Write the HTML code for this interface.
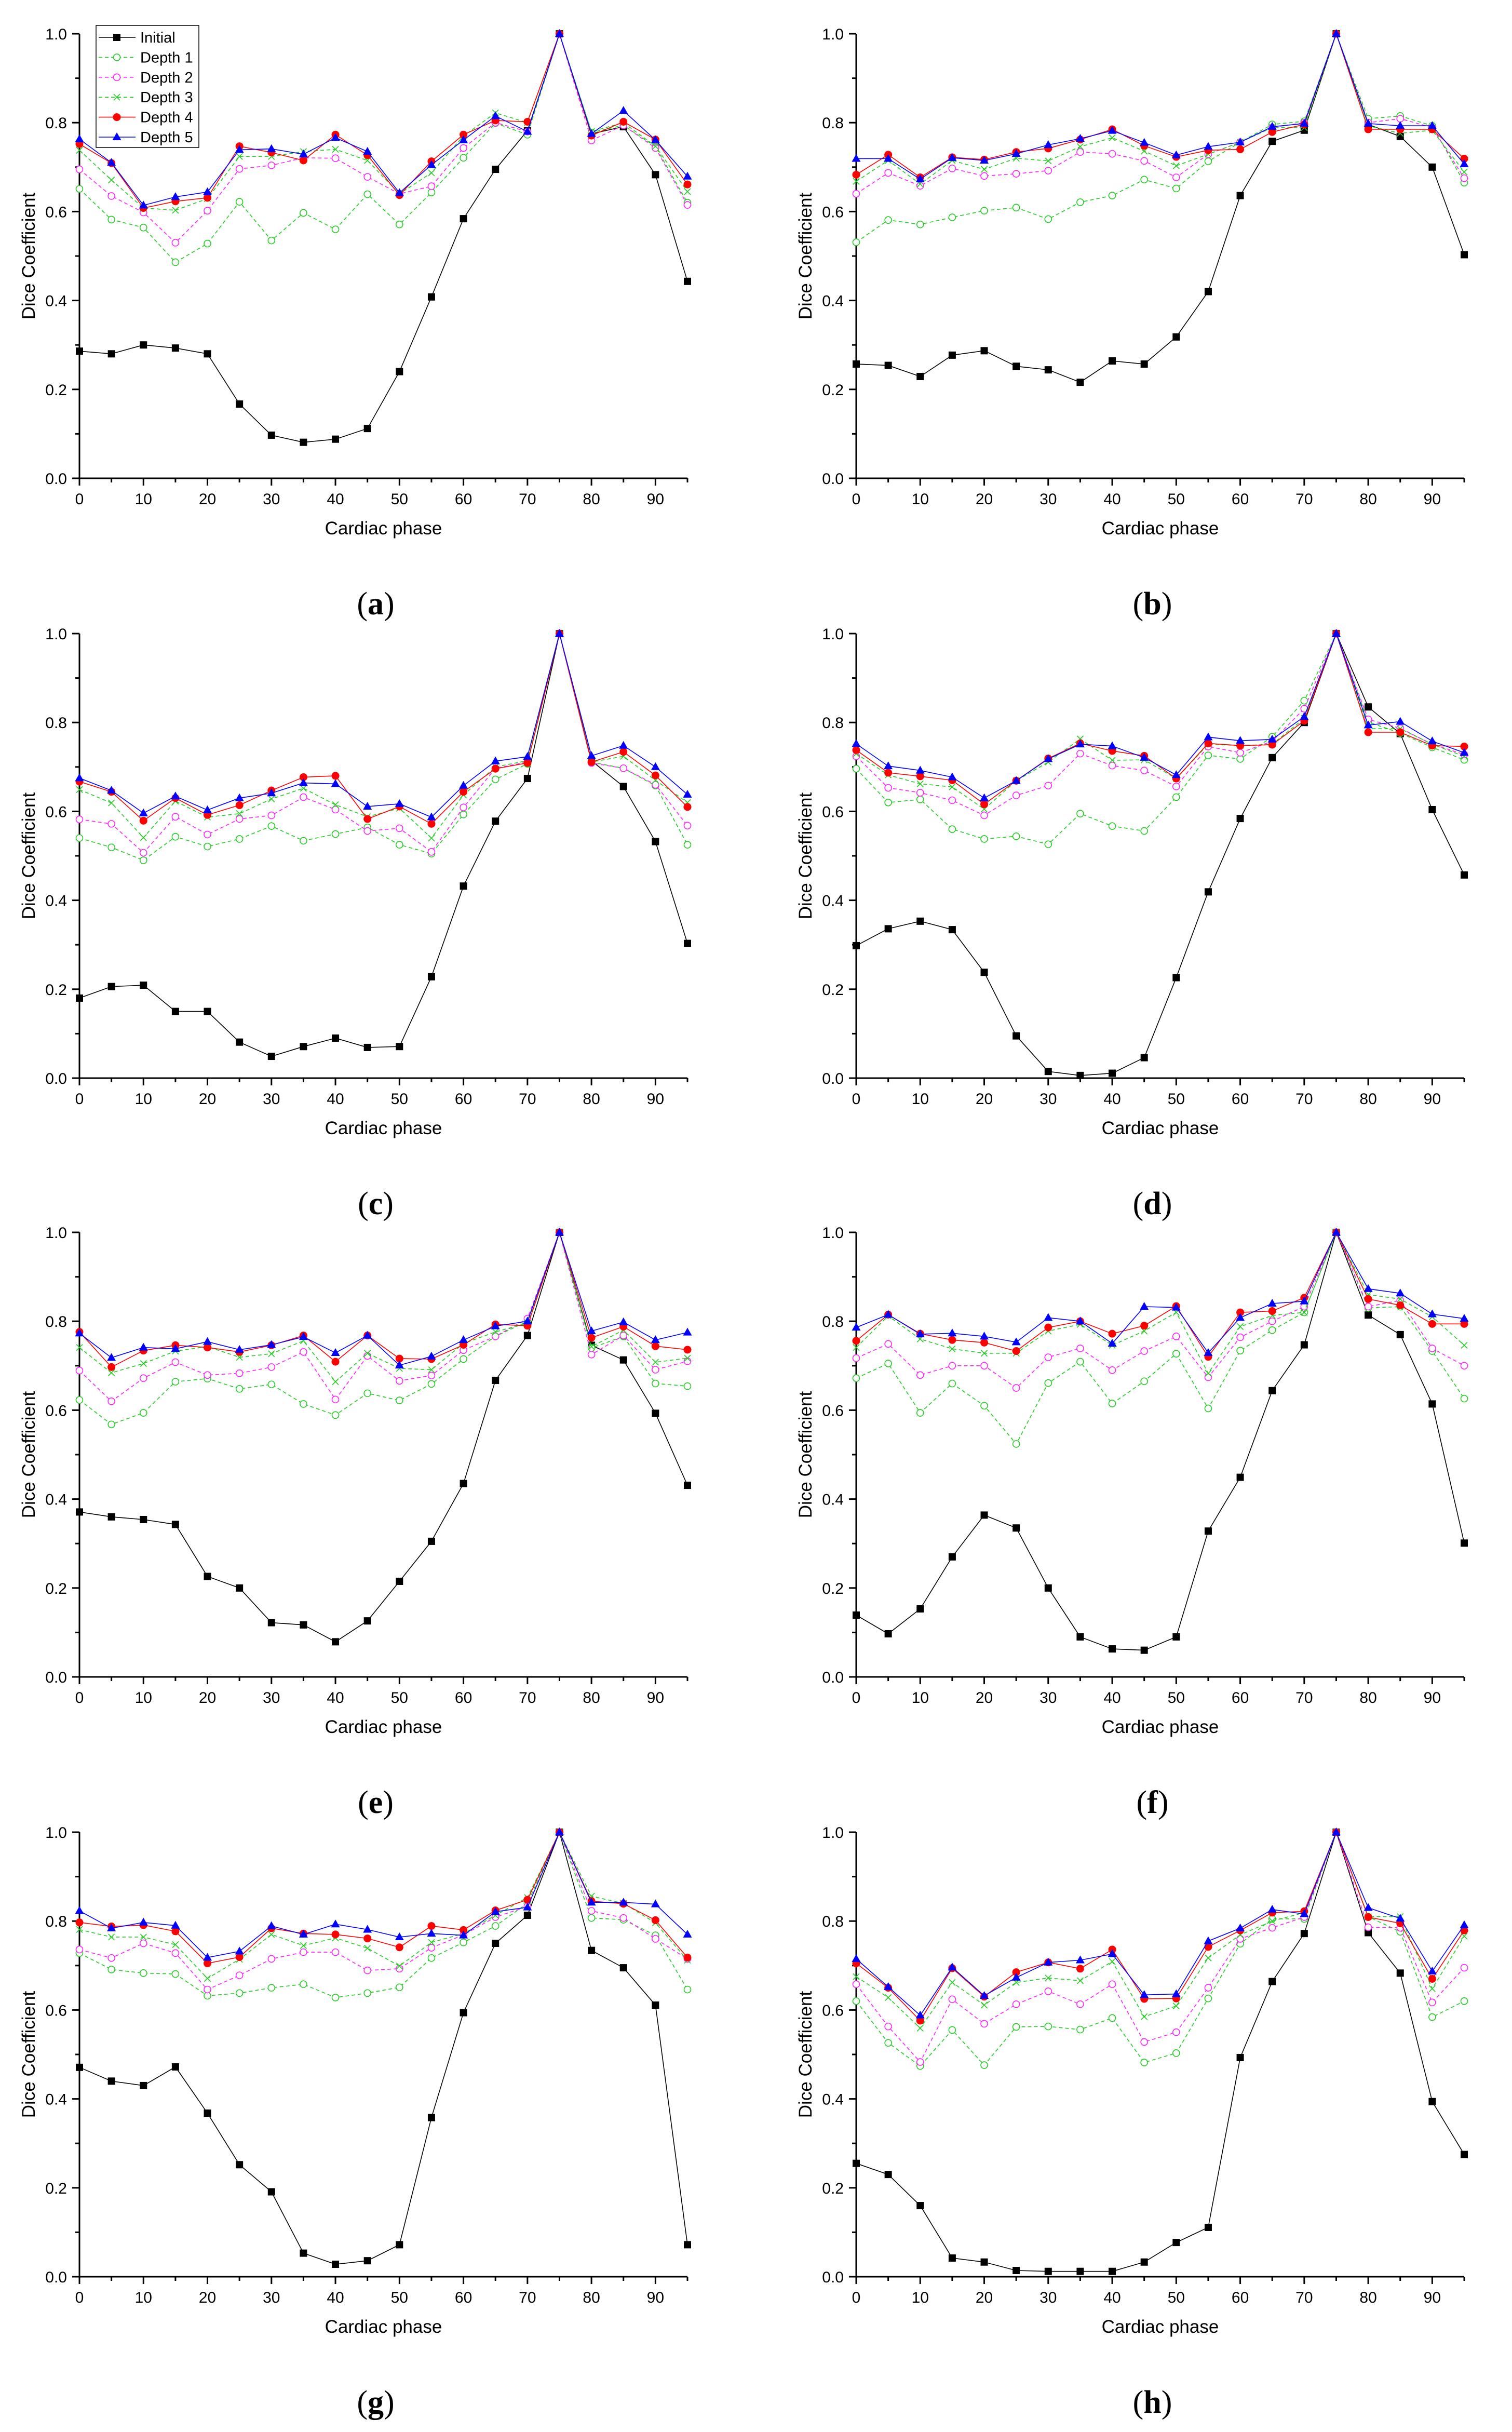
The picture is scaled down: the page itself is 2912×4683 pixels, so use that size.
<!DOCTYPE html>
<html><head><meta charset="utf-8"><title>Dice coefficient by cardiac phase</title>
<style>
html,body{margin:0;padding:0;background:#fff;}
svg{display:block;}
text{font-family:"Liberation Sans",Arial,sans-serif;fill:#000;}
.sub{font-family:"Liberation Serif","DejaVu Serif",serif;}
</style></head>
<body>
<svg id="fig" xmlns="http://www.w3.org/2000/svg" width="2912" height="4683" viewBox="0 0 2912 4683"></svg>
<script>
const phases = [0,5,10,15,20,25,30,35,40,45,50,55,60,65,70,75,80,85,90,95];
const xTicks = [0,10,20,30,40,50,60,70,80,90];
const yTicks = [0.0,0.2,0.4,0.6,0.8,1.0];
const seriesNames = ["Initial","Depth 1","Depth 2","Depth 3","Depth 4","Depth 5"];
const panelLabels = ["a","b","c","d","e","f","g","h"];

const a_init = [.286,.28,.30,.293,.28,.167,.097,.081,.088,.112,.24,.408,.584,.695,.782,1,.775,.791,.683,.443];
const a_d1 = [.651,.582,.564,.486,.528,.622,.535,.597,.56,.639,.571,.643,.721,.799,.773,1,.778,.794,.746,.62];
const a_d2 = [.695,.635,.598,.53,.602,.696,.704,.721,.72,.678,.64,.657,.743,.80,.78,1,.76,.794,.743,.615];
const a_d3 = [.738,.671,.608,.603,.629,.724,.724,.735,.74,.715,.64,.687,.77,.822,.80,1,.78,.80,.747,.645];
const a_d4 = [.752,.709,.608,.623,.631,.747,.733,.715,.773,.727,.637,.713,.773,.805,.802,1,.771,.802,.762,.661];
const a_d5 = [.763,.71,.614,.633,.644,.739,.741,.729,.766,.735,.642,.705,.761,.815,.78,1,.775,.827,.761,.679];

const b_init = [.257,.254,.229,.277,.287,.252,.244,.216,.264,.257,.318,.42,.636,.758,.783,1,.796,.769,.70,.503];
const b_d1 = [.531,.581,.571,.587,.602,.609,.583,.621,.636,.672,.652,.713,.756,.796,.803,1,.809,.815,.793,.665];
const b_d2 = [.64,.687,.658,.697,.68,.685,.692,.734,.73,.714,.677,.729,.756,.789,.80,1,.80,.809,.789,.675];
const b_d3 = [.668,.715,.662,.715,.695,.72,.714,.746,.766,.736,.703,.729,.756,.789,.789,1,.793,.776,.783,.689];
const b_d4 = [.683,.728,.677,.722,.717,.734,.742,.762,.785,.748,.723,.738,.74,.779,.796,1,.785,.785,.785,.719];
const b_d5 = [.719,.719,.673,.721,.715,.73,.75,.764,.782,.755,.727,.746,.756,.791,.798,1,.798,.793,.793,.707];

const c_init = [.18,.206,.209,.15,.15,.081,.049,.071,.09,.069,.071,.228,.432,.578,.674,1,.714,.656,.532,.303];
const c_d1 = [.54,.519,.49,.543,.521,.538,.567,.534,.549,.564,.525,.505,.593,.672,.707,1,.711,.697,.658,.525];
const c_d2 = [.582,.572,.507,.588,.548,.583,.591,.632,.604,.556,.562,.509,.609,.697,.711,1,.709,.697,.66,.568];
const c_d3 = [.649,.619,.541,.623,.587,.595,.628,.652,.615,.588,.607,.54,.637,.70,.714,1,.711,.724,.67,.62];
const c_d4 = [.667,.644,.579,.63,.592,.614,.647,.677,.68,.583,.611,.572,.644,.696,.709,1,.711,.734,.681,.61];
const c_d5 = [.675,.647,.596,.634,.603,.63,.641,.664,.662,.611,.617,.587,.658,.713,.723,1,.725,.748,.70,.638];

const d_init = [.298,.336,.353,.334,.238,.095,.015,.006,.011,.046,.226,.419,.584,.721,.80,1,.835,.775,.604,.457];
const d_d1 = [.696,.62,.627,.56,.538,.544,.526,.595,.567,.556,.632,.726,.718,.768,.849,1,.801,.776,.744,.716];
const d_d2 = [.724,.653,.642,.625,.591,.636,.658,.73,.703,.692,.656,.746,.732,.758,.831,1,.807,.787,.751,.728];
const d_d3 = [.73,.682,.662,.655,.605,.669,.711,.763,.715,.716,.674,.751,.748,.751,.809,1,.786,.786,.751,.724];
const d_d4 = [.738,.687,.679,.67,.616,.669,.719,.753,.736,.725,.674,.753,.748,.75,.804,1,.778,.778,.748,.746];
const d_d5 = [.752,.702,.692,.677,.63,.669,.718,.751,.747,.721,.682,.767,.759,.762,.813,1,.794,.802,.758,.732];

const e_init = [.371,.36,.354,.343,.226,.20,.122,.117,.079,.126,.215,.305,.435,.667,.768,1,.746,.713,.593,.431];
const e_d1 = [.623,.568,.594,.664,.671,.648,.658,.614,.589,.638,.622,.659,.715,.766,.80,1,.74,.766,.66,.654];
const e_d2 = [.689,.62,.672,.708,.679,.683,.697,.731,.624,.722,.666,.678,.735,.766,.806,1,.725,.768,.691,.71];
const e_d3 = [.741,.684,.705,.733,.743,.719,.727,.756,.664,.728,.694,.691,.75,.776,.796,1,.743,.78,.708,.717];
const e_d4 = [.776,.697,.734,.746,.741,.731,.746,.768,.709,.768,.716,.715,.747,.793,.79,1,.763,.788,.744,.736];
const e_d5 = [.773,.718,.741,.738,.754,.736,.747,.765,.729,.768,.701,.721,.758,.789,.80,1,.778,.798,.758,.775];

const f_init = [.139,.097,.153,.27,.364,.335,.20,.09,.063,.06,.09,.328,.449,.644,.747,1,.814,.77,.614,.301];
const f_d1 = [.672,.705,.594,.66,.61,.524,.661,.709,.615,.665,.727,.604,.734,.78,.82,1,.83,.833,.733,.626];
const f_d2 = [.717,.749,.679,.70,.70,.65,.719,.739,.69,.733,.766,.674,.764,.80,.833,1,.833,.847,.739,.70];
const f_d3 = [.741,.812,.76,.738,.728,.728,.778,.793,.746,.778,.82,.683,.788,.813,.82,1,.86,.85,.81,.746];
const f_d4 = [.756,.815,.772,.758,.752,.733,.786,.80,.772,.79,.834,.72,.82,.823,.853,1,.85,.836,.794,.794];
const f_d5 = [.786,.815,.771,.773,.766,.753,.808,.80,.75,.833,.831,.729,.808,.84,.845,1,.873,.863,.816,.806];

const g_init = [.471,.44,.43,.472,.368,.252,.191,.053,.028,.036,.072,.358,.594,.75,.813,1,.734,.695,.611,.072];
const g_d1 = [.728,.691,.683,.681,.632,.638,.65,.658,.628,.638,.651,.717,.752,.789,.84,1,.807,.803,.768,.646];
const g_d2 = [.736,.717,.75,.728,.646,.678,.715,.73,.73,.689,.693,.74,.769,.809,.833,1,.823,.807,.76,.715];
const g_d3 = [.781,.764,.764,.747,.671,.714,.77,.745,.762,.739,.699,.752,.772,.813,.853,1,.856,.84,.796,.712];
const g_d4 = [.797,.788,.791,.777,.705,.719,.784,.772,.77,.761,.741,.789,.78,.824,.848,1,.845,.839,.802,.718];
const g_d5 = [.823,.784,.797,.79,.718,.732,.789,.77,.793,.781,.764,.772,.768,.821,.831,1,.842,.842,.838,.77];

const h_init = [.255,.23,.16,.042,.033,.014,.012,.012,.012,.033,.077,.111,.493,.664,.772,1,.774,.683,.394,.275];
const h_d1 = [.62,.526,.474,.555,.476,.562,.563,.556,.582,.482,.503,.626,.749,.805,.805,1,.81,.776,.584,.62];
const h_d2 = [.658,.563,.483,.624,.569,.613,.642,.613,.658,.528,.55,.65,.76,.785,.809,1,.786,.785,.617,.695];
const h_d3 = [.675,.628,.559,.662,.611,.662,.672,.666,.709,.585,.609,.717,.769,.80,.819,1,.81,.81,.648,.766];
const h_d4 = [.705,.65,.576,.694,.63,.685,.707,.693,.736,.625,.626,.742,.779,.819,.822,1,.809,.795,.67,.779];
const h_d5 = [.715,.652,.588,.696,.632,.673,.707,.712,.726,.634,.636,.755,.784,.826,.816,1,.83,.806,.687,.791];

const panelSeries = [
  [a_init,a_d1,a_d2,a_d3,a_d4,a_d5],
  [b_init,b_d1,b_d2,b_d3,b_d4,b_d5],
  [c_init,c_d1,c_d2,c_d3,c_d4,c_d5],
  [d_init,d_d1,d_d2,d_d3,d_d4,d_d5],
  [e_init,e_d1,e_d2,e_d3,e_d4,e_d5],
  [f_init,f_d1,f_d2,f_d3,f_d4,f_d5],
  [g_init,g_d1,g_d2,g_d3,g_d4,g_d5],
  [h_init,h_d1,h_d2,h_d3,h_d4,h_d5]
];

const NS = "http://www.w3.org/2000/svg";
const svg = document.getElementById("fig");
const styles = [
  {color:"#000000", dash:null, marker:"square"},
  {color:"#22cc22", dash:"7 5", marker:"circle"},
  {color:"#ff22ff", dash:"7 5", marker:"circle"},
  {color:"#22cc22", dash:"7 5", marker:"cross"},
  {color:"#ff0000", dash:null, marker:"dot"},
  {color:"#0000ff", dash:null, marker:"triangle"}
];
function mk(tag, attrs, parent){
  const e = document.createElementNS(NS, tag);
  for (const k in attrs) e.setAttribute(k, attrs[k]);
  (parent||svg).appendChild(e);
  return e;
}
function drawMarker(g, type, color, x, y){
  let m;
  if (type==="square") m = mk("rect",{x:x-7,y:y-7,width:14,height:14,fill:color},g);
  else if (type==="circle") m = mk("circle",{cx:x,cy:y,r:6.5,fill:"#fff",stroke:color,"stroke-width":1.6},g);
  else if (type==="dot") m = mk("circle",{cx:x,cy:y,r:7.5,fill:color},g);
  else if (type==="triangle") m = mk("polygon",{points:`${x},${y-9} ${x-8.5},${y+6} ${x+8.5},${y+6}`,fill:color},g);
  else m = mk("path",{d:`M${x-6},${y-6}L${x+6},${y+6}M${x-6},${y+6}L${x+6},${y-6}`,stroke:color,"stroke-width":1.6,fill:"none"},g);
  return m;
}
const colX = [153, 1649];
const rowY = [65, 1220, 2373, 3528];
const PH = 856, PW = 1171;

panelSeries.forEach((series, p) => {
  const x0 = colX[p%2], yTop = rowY[Math.floor(p/2)], y0 = yTop + PH;
  const xs = v => x0 + v/95*PW;
  const ys = v => y0 - v*PH;
  const g = mk("g",{});
  
  
  // axes
  const ax = mk("path",{d:`M${x0},${yTop}L${x0},${y0}L${x0+PW},${y0}`,stroke:"#000","stroke-width":3,fill:"none"},g);
  
  
  // x ticks
  phases.forEach(v => {
    const major = v%10===0;
    mk("line",{x1:xs(v),y1:y0,x2:xs(v),y2:y0+(major?14:8),stroke:"#000","stroke-width":3},g);
  });
  xTicks.forEach(v => {
    const t = mk("text",{x:xs(v),y:y0+50,"text-anchor":"middle","font-size":30},g);
    t.textContent = v;
    
    
  });
  for (let i=0;i<=10;i++){
    const v=i/10, major=i%2===0;
    mk("line",{x1:x0-(major?14:8),y1:ys(v),x2:x0,y2:ys(v),stroke:"#000","stroke-width":3},g);
  }
  yTicks.forEach(v => {
    const t = mk("text",{x:x0-24,y:ys(v)+11,"text-anchor":"end","font-size":30},g);
    t.textContent = v.toFixed(1);
    
    
  });
  const xt = mk("text",{x:x0+PW/2,y:y0+108,"text-anchor":"middle","font-size":35},g);
  xt.textContent = "Cardiac phase";
  
  
  const yt = mk("text",{x:0,y:0,"text-anchor":"middle","font-size":35,transform:`translate(${x0-86},${yTop+PH/2}) rotate(-90)`},g);
  yt.textContent = "Dice Coefficient";
  
  
  const sl = mk("text",{x:x0+PW/2-15,y:y0+262,"text-anchor":"middle","font-size":62,"class":"sub"},g);
  sl.innerHTML = `(<tspan font-weight="bold">${panelLabels[p]}</tspan>)`;
  
  
  // series
  series.forEach((vals, s) => {
    const st = styles[s];
    const sg = mk("g",{},g);
    
    
    const pts = vals.map((v,i)=>`${xs(phases[i]).toFixed(1)},${ys(v).toFixed(1)}`).join(" ");
    const attrs = {points:pts,fill:"none",stroke:st.color,"stroke-width":1.6};
    if (st.dash) attrs["stroke-dasharray"]=st.dash;
    mk("polyline",attrs,sg);
    vals.forEach((v,i)=>{
      const m = drawMarker(sg, st.marker, st.color, xs(phases[i]), ys(v));
      
      
    });
  });
  // legend on first panel
  if (p===0){
    const lg = mk("g",{},g);
    
    
    mk("rect",{x:185,y:49,width:198,height:235,fill:"#fff",stroke:"#000","stroke-width":1.5},lg);
    seriesNames.forEach((n,s)=>{
      const st = styles[s], y = 72 + s*38.4;
      const e = mk("g",{},lg);
      
      
      const la = {x1:190,y1:y,x2:261,y2:y,stroke:st.color,"stroke-width":1.6};
      if (st.dash) la["stroke-dasharray"]=st.dash;
      mk("line",la,e);
      drawMarker(e, st.marker, st.color, 225, y);
      const t = mk("text",{x:270,y:y+10,"font-size":29},e);
      t.textContent = n;
    });
  }
});
</script>
</body></html>
